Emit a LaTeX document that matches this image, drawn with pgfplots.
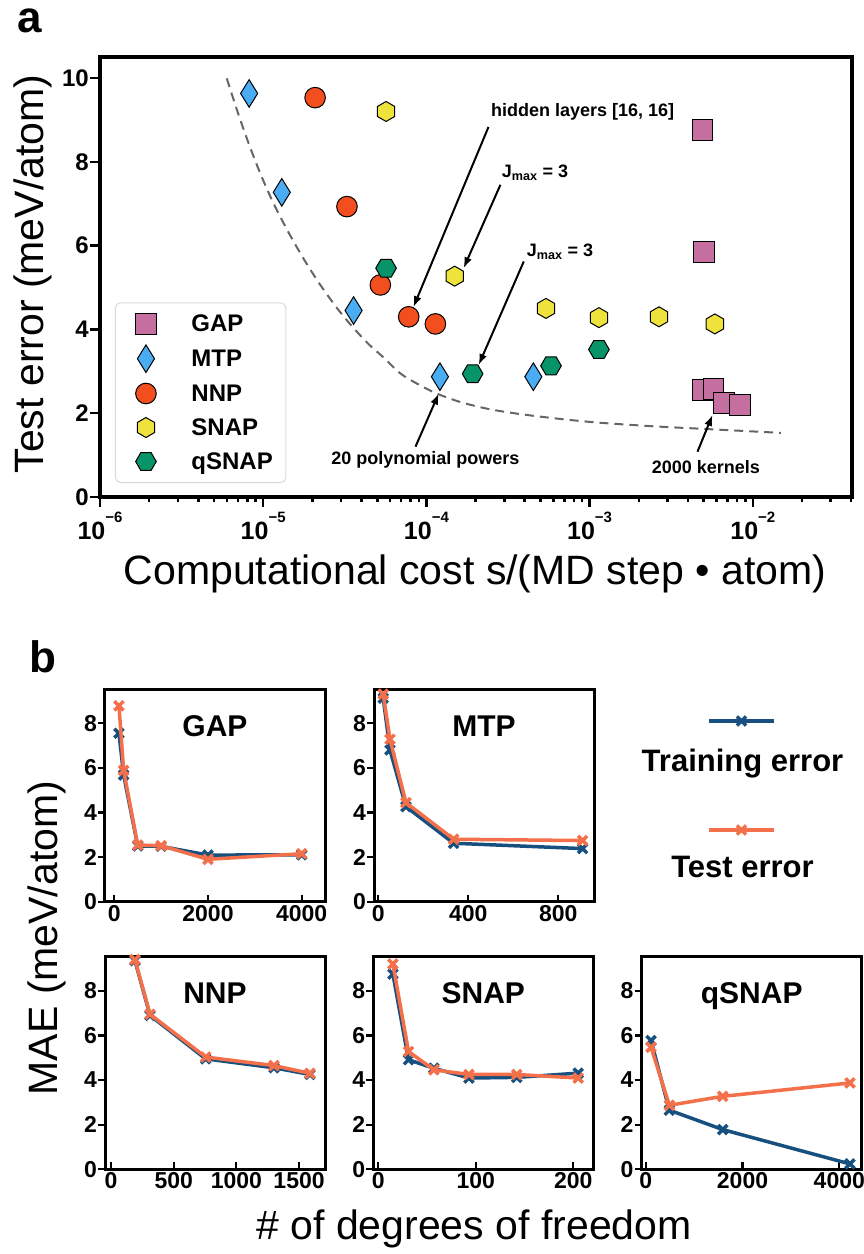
\documentclass[border=0pt]{standalone}
\usepackage{fontspec}
\setmainfont{Liberation Sans}
\usepackage{pgfplots}
\pgfplotsset{compat=1.18}
\usetikzlibrary{arrows.meta}

\definecolor{gapc}{HTML}{C46FA0}
\definecolor{mtpc}{HTML}{4AACF2}
\definecolor{nnpc}{HTML}{F24E1E}
\definecolor{snapc}{HTML}{EEE23C}
\definecolor{qsnapc}{HTML}{079468}
\definecolor{trainc}{HTML}{17507F}
\definecolor{testc}{HTML}{F4704A}

\pgfdeclareplotmark{tdiamond}{%
 \pgfpathmoveto{\pgfpoint{0pt}{\pgfplotmarksize}}%
 \pgfpathlineto{\pgfpoint{0.62\pgfplotmarksize}{0pt}}%
 \pgfpathlineto{\pgfpoint{0pt}{-\pgfplotmarksize}}%
 \pgfpathlineto{\pgfpoint{-0.62\pgfplotmarksize}{0pt}}%
 \pgfpathclose\pgfusepathqfillstroke}
\pgfdeclareplotmark{hexv}{%
 \pgfpathmoveto{\pgfpoint{0pt}{\pgfplotmarksize}}%
 \pgfpathlineto{\pgfpoint{0.866\pgfplotmarksize}{0.5\pgfplotmarksize}}%
 \pgfpathlineto{\pgfpoint{0.866\pgfplotmarksize}{-0.5\pgfplotmarksize}}%
 \pgfpathlineto{\pgfpoint{0pt}{-\pgfplotmarksize}}%
 \pgfpathlineto{\pgfpoint{-0.866\pgfplotmarksize}{-0.5\pgfplotmarksize}}%
 \pgfpathlineto{\pgfpoint{-0.866\pgfplotmarksize}{0.5\pgfplotmarksize}}%
 \pgfpathclose\pgfusepathqfillstroke}
\pgfdeclareplotmark{hexh}{%
 \pgfpathmoveto{\pgfpoint{\pgfplotmarksize}{0pt}}%
 \pgfpathlineto{\pgfpoint{0.5\pgfplotmarksize}{0.866\pgfplotmarksize}}%
 \pgfpathlineto{\pgfpoint{-0.5\pgfplotmarksize}{0.866\pgfplotmarksize}}%
 \pgfpathlineto{\pgfpoint{-\pgfplotmarksize}{0pt}}%
 \pgfpathlineto{\pgfpoint{-0.5\pgfplotmarksize}{-0.866\pgfplotmarksize}}%
 \pgfpathlineto{\pgfpoint{0.5\pgfplotmarksize}{-0.866\pgfplotmarksize}}%
 \pgfpathclose\pgfusepathqfillstroke}

\newcommand{\ex}[1]{10\raisebox{17pt}{\fontsize{15}{15}\selectfont −#1}}

\pgfplotsset{
 smallax/.style={scale only axis, width=220pt, height=212.4pt, anchor=south west,
   ymin=0, ymax=9.52, ytick={0,2,4,6,8}, yticklabels={0,2,4,6,8},
   axis line style={line width=3pt}, tick style={line width=2.2pt,black},
   major tick length=7pt, xtick align=inside, ytick align=outside,
   xtick pos=left, ytick pos=left,
   tick label style={font=\bfseries\fontsize{23}{23}\selectfont},
   yticklabel style={inner xsep=1pt},
   clip mode=individual},
 trainst/.style={trainc, line width=3.5pt, mark=x, mark size=6.5pt, mark options={line width=3.5pt}},
 testst/.style={testc, line width=3.5pt, mark=x, mark size=6.5pt, mark options={line width=3.5pt}},
}
\tikzset{ttl/.style={anchor=base, font=\bfseries\fontsize{30}{30}\selectfont}}

\begin{document}
\begin{tikzpicture}
\useasboundingbox (0pt,0pt) rectangle (863pt,1254pt);

% ---------------- panel a ----------------
\begin{axis}[
 scale only axis, width=752pt, height=440pt,
 at={(100pt,757pt)}, anchor=south west,
 xmode=log, xmin=1e-6, xmax=0.0405, ymin=0, ymax=10.5,
 axis line style={line width=4pt},
 tick style={line width=2.5pt, black},
 major tick length=10pt, minor tick length=5pt,
 tick align=outside, xtick pos=left, ytick pos=left,
 xtick={1e-6,1e-5,1e-4,1e-3,1e-2},
 xticklabels={\ex{6},\ex{5},\ex{4},\ex{3},\ex{2}},
 minor xtick={2e-6,3e-6,4e-6,5e-6,6e-6,7e-6,8e-6,9e-6,
   2e-5,3e-5,4e-5,5e-5,6e-5,7e-5,8e-5,9e-5,
   2e-4,3e-4,4e-4,5e-4,6e-4,7e-4,8e-4,9e-4,
   2e-3,3e-3,4e-3,5e-3,6e-3,7e-3,8e-3,9e-3,
   2e-2,3e-2,4e-2},
 ytick={0,2,4,6,8,10}, yticklabels={0,2,4,6,8,10},
 tick label style={font=\bfseries\fontsize{24}{24}\selectfont},
 xticklabel style={font=\bfseries\fontsize{25}{25}\selectfont, inner ysep=5pt},
 yticklabel style={inner xsep=1pt},
 clip=false,
 legend style={at={(0.0199,0.0318)}, anchor=south west, draw=black!15, line width=1pt,
   rounded corners=5pt, fill=white, font=\bfseries\fontsize{24}{24}\selectfont,
   inner xsep=10pt, inner ysep=8pt, row sep=8pt,
   nodes={inner sep=3pt, text height=18pt, text depth=2pt}, cells={anchor=west}},
 legend image code/.code={\path (0pt,0pt); \draw[mark repeat=2,mark phase=2,#1] plot coordinates {(0pt,0pt)(20pt,0pt)(40pt,0pt)}; \path (62pt,0pt);},
]
\addplot[black!60, line width=2pt, dash pattern=on 9pt off 6pt, smooth, tension=0.5, forget plot]
 coordinates {(5.98e-6,9.99)(7.08e-6,9.11)(8.32e-6,8.34)(9.77e-6,7.65)(1.156e-5,7.01)
 (1.413e-5,6.35)(1.778e-5,5.67)(2.239e-5,5.06)(2.818e-5,4.52)(3.42e-5,4.12)
 (4.365e-5,3.67)(5.495e-5,3.32)(6.918e-5,2.95)(8.71e-5,2.71)(1.109e-4,2.50)
 (1.413e-4,2.34)(1.778e-4,2.22)(2.512e-4,2.085)(3.981e-4,1.965)(7.079e-4,1.85)
 (1.175e-3,1.77)(2.512e-3,1.685)(5.623e-3,1.615)(1.486e-2,1.53)};
\addplot[only marks, mark=square*, mark size=10.3pt, mark options={fill=gapc, draw=black, line width=1pt}]
 coordinates {(4.91e-3,8.76)(5.00e-3,5.84)(4.91e-3,2.55)(5.74e-3,2.57)(6.64e-3,2.24)(8.36e-3,2.20)};
\addlegendentry{GAP}
\addplot[only marks, mark=tdiamond, mark size=13.8pt, mark options={fill=mtpc, draw=black, line width=1pt}]
 coordinates {(8.2e-6,9.63)(1.30e-5,7.27)(3.58e-5,4.45)(1.21e-4,2.87)(4.52e-4,2.87)};
\addlegendentry{MTP}
\addplot[only marks, mark=*, mark size=10.3pt, mark options={fill=nnpc, draw=black, line width=1pt}]
 coordinates {(2.08e-5,9.53)(3.26e-5,6.93)(5.22e-5,5.06)(7.79e-5,4.30)(1.135e-4,4.13)};
\addlegendentry{NNP}
\addplot[only marks, mark=hexv, mark size=10pt, mark options={fill=snapc, draw=black, line width=1pt}]
 coordinates {(5.66e-5,9.20)(1.49e-4,5.27)(5.40e-4,4.50)(1.14e-3,4.28)(2.66e-3,4.30)(5.85e-3,4.13)};
\addlegendentry{SNAP}
\addplot[only marks, mark=hexh, mark size=10.3pt, mark options={fill=qsnapc, draw=black, line width=1pt}]
 coordinates {(5.66e-5,5.46)(1.92e-4,2.94)(5.80e-4,3.13)(1.14e-3,3.52)};
\addlegendentry{qSNAP}

\begin{scope}[line width=2pt, -{Latex[length=11pt,width=8pt]}]
\draw (axis cs:2.40e-4,8.83) -- (axis cs:8.32e-5,4.53);
\draw (axis cs:2.84e-4,7.45) -- (axis cs:1.69e-4,5.46);
\draw (axis cs:3.95e-4,5.62) -- (axis cs:2.09e-4,3.15);
\draw (axis cs:8.57e-5,1.20) -- (axis cs:1.19e-4,2.47);
\draw (axis cs:4.58e-3,1.08) -- (axis cs:5.66e-3,1.96);
\end{scope}
\begin{scope}[every node/.style={font=\bfseries\fontsize{18}{18}\selectfont}]
\node at (axis cs:9.06e-4,9.19) {hidden layers [16, 16]};
\node at (axis cs:4.63e-4,7.73) {J\textsubscript{max} = 3};
\node at (axis cs:6.59e-4,5.85) {J\textsubscript{max} = 3};
\node at (axis cs:9.86e-5,0.88) {20 polynomial powers};
\node at (axis cs:5.15e-3,0.72) {2000 kernels};
\end{scope}
\end{axis}

\node[anchor=base, font=\fontsize{41}{41}\selectfont] at (475pt,669pt) {Computational cost s/(MD step • atom)};
\node[anchor=base, rotate=90, font=\fontsize{41}{41}\selectfont] at (43pt,980pt) {Test error (meV/atom)};
\node[anchor=base west, inner sep=0pt, font=\bfseries\fontsize{44}{44}\selectfont] at (17pt,1221pt) {a};
\node[anchor=base west, inner sep=0pt, font=\bfseries\fontsize{44}{44}\selectfont] at (29pt,581pt) {b};

% ---------------- panel b ----------------
\begin{axis}[smallax, at={(105pt,352.3pt)}, xmin=-198, xmax=4497, xtick={0,2000,4000}, xticklabels={0,2000,4000}]
\addplot[trainst] coordinates {(100,7.55)(200,5.68)(500,2.50)(1000,2.48)(2000,2.09)(4000,2.10)};
\addplot[testst] coordinates {(100,8.78)(200,5.88)(500,2.54)(1000,2.51)(2000,1.90)(4000,2.15)};
\node[ttl] at (rel axis cs:0.5,0.78) {GAP};
\end{axis}

\begin{axis}[smallax, at={(374pt,352.3pt)}, xmin=-19, xmax=958.7, xtick={0,400,800}, xticklabels={0,400,800}]
\addplot[trainst] coordinates {(22,9.12)(52,6.80)(123,4.26)(335,2.62)(908,2.38)};
\addplot[testst] coordinates {(22,9.30)(52,7.28)(123,4.44)(335,2.80)(908,2.74)};
\node[ttl] at (rel axis cs:0.5,0.78) {MTP};
\end{axis}

\begin{axis}[smallax, at={(105pt,84.7pt)}, xmin=-48, xmax=1707, xtick={0,500,1000,1500}, xticklabels={0,500,1000,1500}]
\addplot[trainst] coordinates {(191,9.35)(311,6.90)(755,4.95)(1300,4.55)(1587,4.25)};
\addplot[testst] coordinates {(191,9.40)(311,6.95)(755,5.03)(1300,4.65)(1587,4.30)};
\node[ttl] at (rel axis cs:0.5,0.78) {NNP};
\end{axis}

\begin{axis}[smallax, at={(373.3pt,84.7pt)}, xmin=-5.1, xmax=220.5, xtick={0,100,200}, xticklabels={0,100,200}]
\addplot[trainst] coordinates {(15,8.75)(31,4.91)(57,4.53)(93,4.09)(142,4.12)(205,4.31)};
\addplot[testst] coordinates {(15,9.20)(31,5.28)(57,4.46)(93,4.25)(142,4.25)(205,4.09)};
\node[ttl] at (rel axis cs:0.5,0.78) {SNAP};
\end{axis}

\begin{axis}[smallax, at={(641.7pt,84.7pt)}, xmin=-83, xmax=4463, xtick={0,2000,4000}, xticklabels={0,2000,4000}]
\addplot[trainst] coordinates {(110,5.77)(488,2.65)(1591,1.78)(4221,0.24)};
\addplot[testst] coordinates {(110,5.47)(488,2.87)(1591,3.27)(4221,3.87)};
\node[ttl] at (rel axis cs:0.5,0.78) {qSNAP};
\end{axis}

% legend of panel b
\begin{axis}[scale only axis, width=220pt, height=212.4pt, at={(641.7pt,352.3pt)}, anchor=south west,
  xmin=641.7, xmax=861.7, ymin=-901.7, ymax=-689.3, hide axis, clip=false]
\addplot[trainst, mark indices={2}] coordinates {(709,-721)(741.5,-721)(774,-721)};
\addplot[testst, mark indices={2}] coordinates {(709,-830)(741.5,-830)(774,-830)};
\node[anchor=base, font=\bfseries\fontsize{31}{31}\selectfont] at (axis cs:742.5,-771.7) {Training error};
\node[anchor=base, font=\bfseries\fontsize{31}{31}\selectfont] at (axis cs:742.5,-877.3) {Test error};
\end{axis}

\node[anchor=base, rotate=90, font=\fontsize{41}{41}\selectfont] at (57pt,316pt) {MAE (meV/atom)};
\node[anchor=base, font=\fontsize{41}{41}\selectfont] at (474pt,14pt) {\# of degrees of freedom};
\end{tikzpicture}
\end{document}
